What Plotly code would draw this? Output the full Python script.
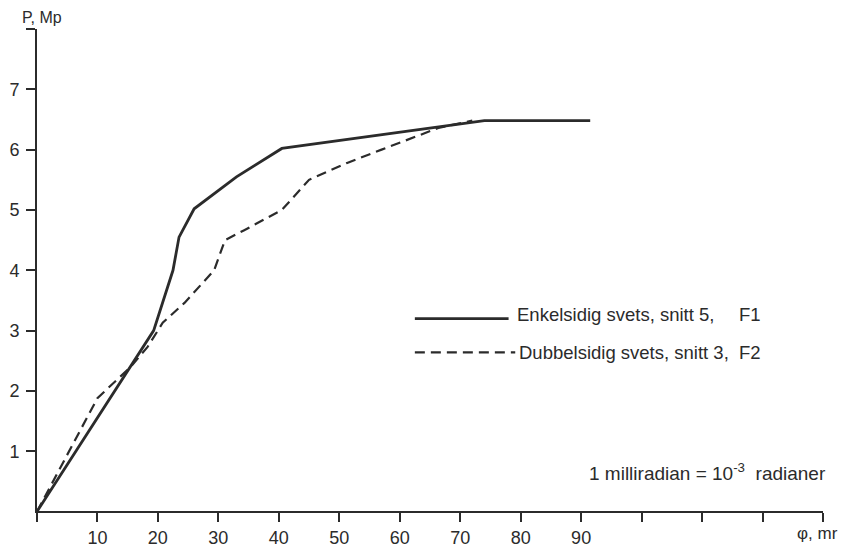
import plotly.graph_objects as go

# Data
phi_f1 = [0, 19.3, 22.5, 23.5, 26.0, 33.0, 40.5, 57.0, 74.0, 91.5]
p_f1 = [0, 3.0, 4.0, 4.55, 5.02, 5.55, 6.02, 6.25, 6.48, 6.48]

phi_f2 = [0, 10.0, 15.5, 18.3, 20.8, 24.4, 29.3, 31.1, 34.2, 40.5, 45.0, 51.3, 57.0, 66.4, 72.0]
p_f2 = [0, 1.88, 2.4, 2.73, 3.13, 3.46, 4.0, 4.5, 4.66, 5.0, 5.5, 5.78, 6.0, 6.36, 6.48]

x_tickvals = [10, 20, 30, 40, 50, 60, 70, 80, 90]
x_ticktext = ["10", "20", "30", "40", "50", "60", "70", "80", "90"]
y_tickvals = [1, 2, 3, 4, 5, 6, 7]
y_ticktext = ["1", "2", "3", "4", "5", "6", "7"]

name_f1 = "Enkelsidig svets, snitt 5,"
name_f2 = "Dubbelsidig svets, snitt 3,"

INK = "#2b2b2b"
FONT = "Liberation Sans"

fig = go.Figure()
fig.add_trace(go.Scatter(x=phi_f1, y=p_f1, mode="lines", name=name_f1 + " F1",
                         line=dict(color=INK, width=2.8), showlegend=False))
fig.add_trace(go.Scatter(x=phi_f2, y=p_f2, mode="lines", name=name_f2 + " F2",
                         line=dict(color=INK, width=2.2, dash="10px,6px"), showlegend=False))

# Legend drawn manually
fig.add_shape(type="line", x0=62.5, x1=78.0, y0=3.2, y1=3.2, xref="x", yref="y",
              line=dict(color=INK, width=2.8))
fig.add_shape(type="line", x0=62.5, x1=79.1, y0=2.64, y1=2.64, xref="x", yref="y",
              line=dict(color=INK, width=2.2, dash="10px,6px"))

ann_font = dict(family=FONT, size=18.5, color=INK)
fig.add_annotation(x=79.1, y=3.27, text=name_f1, showarrow=False, xanchor="left",
                   yanchor="middle", font=ann_font)
fig.add_annotation(x=115.8, y=3.27, text="F1", showarrow=False, xanchor="left",
                   yanchor="middle", font=ann_font)
fig.add_annotation(x=79.4, y=2.64, text=name_f2, showarrow=False, xanchor="left",
                   yanchor="middle", font=ann_font)
fig.add_annotation(x=115.8, y=2.64, text="F2", showarrow=False, xanchor="left",
                   yanchor="middle", font=ann_font)
fig.add_annotation(x=130, y=0.65, text="1 milliradian = 10<sup>-3</sup>  radianer", showarrow=False,
                   xanchor="right", yanchor="middle", xshift=5, font=dict(family=FONT, size=19, color=INK))

# Axis titles (paper coordinates)
fig.add_annotation(xref="paper", yref="paper", x=0, y=1, text="P, Mp", showarrow=False,
                   xanchor="center", yanchor="bottom", xshift=5, yshift=1,
                   font=dict(family=FONT, size=16, color=INK))
fig.add_annotation(xref="paper", yref="paper", x=1, y=0, text="φ, mr", showarrow=False,
                   xanchor="right", yanchor="top", yshift=-11, xshift=17,
                   font=dict(family=FONT, size=17, color=INK))

fig.update_layout(
    width=843, height=551,
    margin=dict(l=37, r=20, t=29, b=40, autoexpand=False),
    paper_bgcolor="white", plot_bgcolor="white",
    font=dict(family=FONT, size=18, color=INK),
    showlegend=False,
)
fig.update_xaxes(range=[0.01, 130], tickvals=x_tickvals, ticktext=x_ticktext, automargin=False,
                 showgrid=False, zeroline=False, showline=True, linecolor=INK, linewidth=2,
                 ticks="outside", ticklen=9, tickwidth=2, tickcolor=INK,
                 minor=dict(tick0=10, dtick=10, ticks="outside", ticklen=9, tickwidth=2,
                            tickcolor=INK, showgrid=False),
                 tickfont=dict(family=FONT, size=18, color=INK))
fig.update_yaxes(range=[0.01, 8], tickvals=y_tickvals, ticktext=y_ticktext, automargin=False,
                 showgrid=False, zeroline=False, showline=True, linecolor=INK, linewidth=2,
                 ticks="outside", ticklen=9, tickwidth=2, tickcolor=INK, ticklabelstandoff=3,
                 minor=dict(tick0=1, dtick=1, ticks="outside", ticklen=9, tickwidth=2,
                            tickcolor=INK, showgrid=False),
                 tickfont=dict(family=FONT, size=18, color=INK))

fig.write_html("out.html", config={"displayModeBar": False},
               post_script="document.body.style.margin='0px';document.body.style.overflow='hidden';")
